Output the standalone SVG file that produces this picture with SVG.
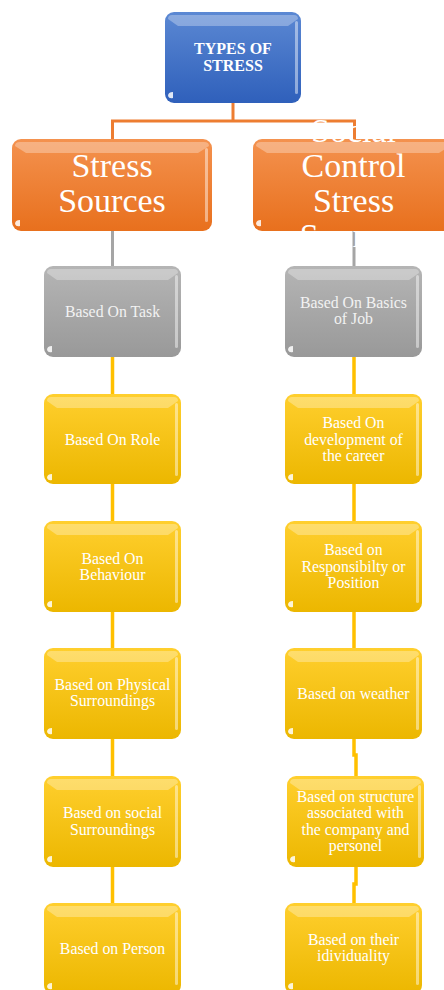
<svg xmlns="http://www.w3.org/2000/svg" xmlns:xlink="http://www.w3.org/1999/xlink" width="444" height="990" viewBox="0 0 444 990">
<defs>
<linearGradient id="gBlue" x1="0" y1="0" x2="0" y2="1"><stop offset="0" stop-color="#5b88d3"/><stop offset="1" stop-color="#2f60bb"/></linearGradient>
<linearGradient id="gOrange" x1="0" y1="0" x2="0" y2="1"><stop offset="0" stop-color="#f4924f"/><stop offset="1" stop-color="#e8701d"/></linearGradient>
<linearGradient id="gGray" x1="0" y1="0" x2="0" y2="1"><stop offset="0" stop-color="#b5b5b5"/><stop offset="1" stop-color="#999999"/></linearGradient>
<linearGradient id="gYellow" x1="0" y1="0" x2="0" y2="1"><stop offset="0" stop-color="#ffcf2e"/><stop offset="1" stop-color="#ecb700"/></linearGradient>
<g id="hlSmall">
<path d="M7,3 H130 Q134,3 134,7 L124,14 H13 L3,7 Q3,3 7,3 Z" fill="#ffffff" fill-opacity="0.3"/>
<rect x="131" y="9" width="3" height="73" rx="1.5" fill="#ffffff" fill-opacity="0.45"/>
<path d="M3,84 Q3,80 8,80 L8,86 Q4,87 3,84 Z" fill="#ffffff" fill-opacity="0.85"/>
</g>
<g id="hlTop">
<path d="M7,3 H129 Q133,3 133,7 L123,14 H13 L3,7 Q3,3 7,3 Z" fill="#ffffff" fill-opacity="0.3"/>
<rect x="130" y="9" width="3" height="73" rx="1.5" fill="#ffffff" fill-opacity="0.45"/>
<path d="M3,84 Q3,80 8,80 L8,86 Q4,87 3,84 Z" fill="#ffffff" fill-opacity="0.85"/>
</g>
<g id="hlBig">
<path d="M8,3 H192 Q197,3 197,7 L186,14 H14 L3,7 Q3,3 8,3 Z" fill="#ffffff" fill-opacity="0.3"/>
<rect x="193" y="9" width="3" height="74" rx="1.5" fill="#ffffff" fill-opacity="0.45"/>
<path d="M3,85 Q3,81 8,81 L8,87 Q4,88 3,85 Z" fill="#ffffff" fill-opacity="0.85"/>
</g>
</defs>
<style>
.t{font-family:"Liberation Serif","Times New Roman",serif;fill:#ffffff;text-anchor:middle;}
.s{font-size:15.8px;}
.g{fill:#f2f2f2;}
.big{font-size:34px;}
.hd{font-size:16px;font-weight:bold;}
.c{fill:none;stroke-linecap:butt;stroke-linejoin:miter;}
.co{stroke:#ed7d31;stroke-width:3;}
.cg{stroke:#a5a5a5;stroke-width:3;}
.cy{stroke:#ffc000;stroke-width:3.5;}
</style>

<g id="connectors">
<path class="c co" d="M233,103 V121" stroke-width="4.5"/>
<path class="c co" d="M112.5,139 V121 H354.5 V139"/>
<path class="c cg" d="M112.5,231 V266 M354,231 V266"/>
<path class="c cy" d="M112.5,357 V394 M112.5,484 V521 M112.5,612 V648 M112.5,739 V776 M112.5,867 V903"/>
<path class="c cy" d="M354,357 V394 M354,484 V521 M354,612 V648 M354,739 V755 H356 V776 M356,867 V884 H354 V903"/>
</g>

<g id="n-types">
<rect x="165" y="12" width="136" height="91" rx="9" fill="url(#gBlue)"/>
<use xlink:href="#hlTop" x="165" y="12"/>
<text class="t hd" x="233" y="54">TYPES OF</text>
<text class="t hd" x="233" y="71">STRESS</text>
</g>

<g id="n-stress-sources">
<rect x="12" y="139" width="200" height="92" rx="9" fill="url(#gOrange)"/>
<use xlink:href="#hlBig" x="12" y="139"/>
<text class="t big" x="112" y="177">Stress</text>
<text class="t big" x="112" y="212">Sources</text>
</g>

<g id="n-social-control">
<rect x="253" y="139" width="200" height="92" rx="9" fill="url(#gOrange)"/>
<use xlink:href="#hlBig" x="253" y="139"/>
<text class="t big" x="353.5" y="142">Social</text>
<text class="t big" x="353.5" y="177">Control</text>
<text class="t big" x="353.5" y="212">Stress</text>
<text class="t big" x="353.5" y="247">Sources</text>
</g>

<g id="n-task">
<rect x="44" y="266" width="137" height="91" rx="9" fill="url(#gGray)"/>
<use xlink:href="#hlSmall" x="44" y="266"/>
<text class="t s g" x="112.5" y="316.5">Based On Task</text>
</g>

<g id="n-role">
<rect x="44" y="394" width="137" height="90" rx="9" fill="url(#gYellow)"/>
<use xlink:href="#hlSmall" x="44" y="394"/>
<text class="t s" x="112.5" y="444.5">Based On Role</text>
</g>

<g id="n-behaviour">
<rect x="44" y="521" width="137" height="91" rx="9" fill="url(#gYellow)"/>
<use xlink:href="#hlSmall" x="44" y="521"/>
<text class="t s" x="112.5" y="564">Based On</text>
<text class="t s" x="112.5" y="580">Behaviour</text>
</g>

<g id="n-physical">
<rect x="44" y="648" width="137" height="91" rx="9" fill="url(#gYellow)"/>
<use xlink:href="#hlSmall" x="44" y="648"/>
<text class="t s" x="112.5" y="690">Based on Physical</text>
<text class="t s" x="112.5" y="706">Surroundings</text>
</g>

<g id="n-social">
<rect x="44" y="776" width="137" height="91" rx="9" fill="url(#gYellow)"/>
<use xlink:href="#hlSmall" x="44" y="776"/>
<text class="t s" x="112.5" y="818">Based on social</text>
<text class="t s" x="112.5" y="834.5">Surroundings</text>
</g>

<g id="n-person">
<rect x="44" y="903" width="137" height="91" rx="9" fill="url(#gYellow)"/>
<use xlink:href="#hlSmall" x="44" y="903"/>
<text class="t s" x="112.5" y="954">Based on Person</text>
</g>

<g id="n-basics">
<rect x="285" y="266" width="137" height="91" rx="9" fill="url(#gGray)"/>
<use xlink:href="#hlSmall" x="285" y="266"/>
<text class="t s g" x="353.5" y="308">Based On Basics</text>
<text class="t s g" x="353.5" y="324">of Job</text>
</g>

<g id="n-career">
<rect x="285" y="394" width="137" height="90" rx="9" fill="url(#gYellow)"/>
<use xlink:href="#hlSmall" x="285" y="394"/>
<text class="t s" x="353.5" y="428">Based On</text>
<text class="t s" x="353.5" y="444.5">development of</text>
<text class="t s" x="353.5" y="461">the career</text>
</g>

<g id="n-responsibility">
<rect x="285" y="521" width="137" height="91" rx="9" fill="url(#gYellow)"/>
<use xlink:href="#hlSmall" x="285" y="521"/>
<text class="t s" x="353.5" y="555">Based on</text>
<text class="t s" x="353.5" y="571.5">Responsibilty or</text>
<text class="t s" x="353.5" y="587.5">Position</text>
</g>

<g id="n-weather">
<rect x="285" y="648" width="137" height="91" rx="9" fill="url(#gYellow)"/>
<use xlink:href="#hlSmall" x="285" y="648"/>
<text class="t s" x="353.5" y="698.5">Based on weather</text>
</g>

<g id="n-structure">
<rect x="287" y="776" width="137" height="91" rx="9" fill="url(#gYellow)"/>
<use xlink:href="#hlSmall" x="287" y="776"/>
<text class="t s" x="355.5" y="802">Based on structure</text>
<text class="t s" x="355.5" y="818">associated with</text>
<text class="t s" x="355.5" y="834.5">the company and</text>
<text class="t s" x="355.5" y="850.5">personel</text>
</g>

<g id="n-individuality">
<rect x="285" y="903" width="137" height="91" rx="9" fill="url(#gYellow)"/>
<use xlink:href="#hlSmall" x="285" y="903"/>
<text class="t s" x="353.5" y="945">Based on their</text>
<text class="t s" x="353.5" y="961">idividuality</text>
</g>
</svg>
